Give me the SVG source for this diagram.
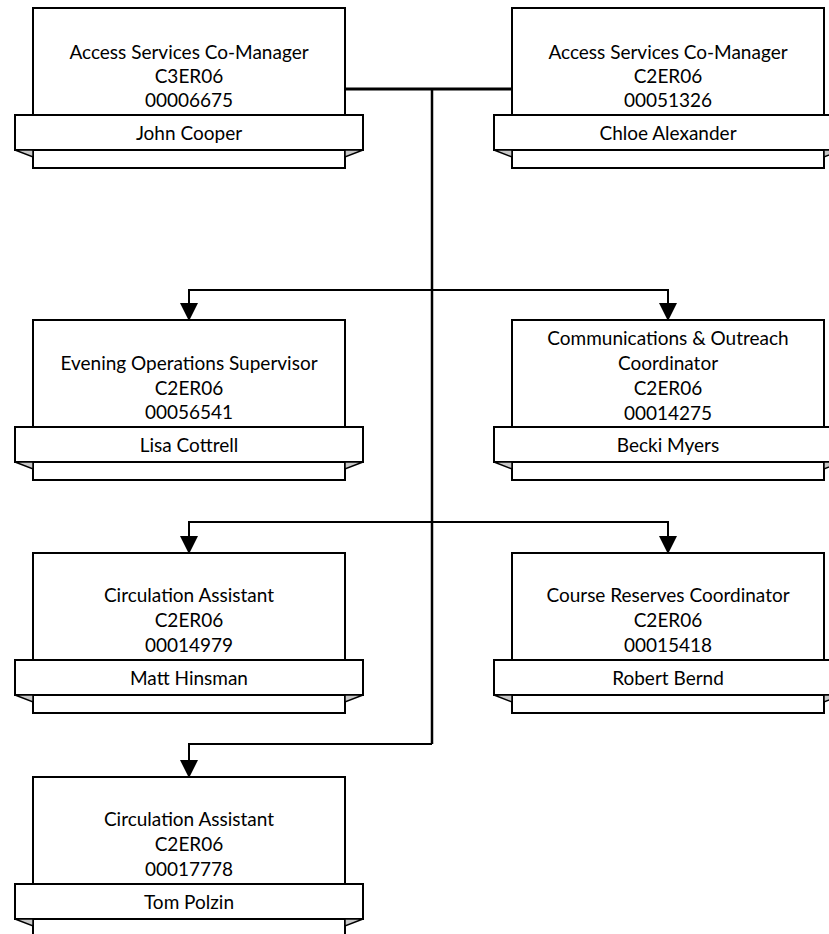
<svg xmlns="http://www.w3.org/2000/svg" xmlns:xlink="http://www.w3.org/1999/xlink" width="829" height="934" viewBox="0 0 829 934">
<style>
.box{fill:#fff;stroke:#000;stroke-width:2}
.fold{fill:#c8c8c8;stroke:#000;stroke-width:1.5;stroke-linejoin:miter}
.t{font-family:Lato,"Liberation Sans",sans-serif;font-size:19px;text-anchor:middle;fill:#000}
.conn{fill:none;stroke:#000;stroke-width:2}
</style>
<defs>
<marker id="arr" viewBox="0 0 18 18" refX="17" refY="9" markerWidth="18" markerHeight="18" markerUnits="userSpaceOnUse" orient="auto">
<path d="M0,0 L18,9 L0,18 z" fill="#000"/>
</marker>
<g id="card">
<rect class="box" x="0" y="0" width="312" height="160"/>
<rect class="box" x="-18" y="107" width="348" height="35"/>
<polygon class="fold" points="-18,142 0,142 0,149"/>
<polygon class="fold" points="330,142 312,142 312,149"/>
</g>
</defs>
<g id="connectors">
<path d="M345,89 H512" style="fill:none;stroke:#000;stroke-width:3"/>
<path d="M432,89 V744" style="fill:none;stroke:#000;stroke-width:2.5"/>
<path class="conn" d="M432,290 H189 V320" marker-end="url(#arr)"/>
<path class="conn" d="M432,290 H668 V320" marker-end="url(#arr)"/>
<path class="conn" d="M432,522 H189 V553" marker-end="url(#arr)"/>
<path class="conn" d="M432,522 H668 V553" marker-end="url(#arr)"/>
<path class="conn" d="M432,744 H189 V777" marker-end="url(#arr)"/>
</g>
<g id="node-john-cooper">
<use xlink:href="#card" x="33" y="8"/>
<text class="t" x="189" y="59">Access Services Co-Manager</text>
<text class="t" x="189" y="83">C3ER06</text>
<text class="t" x="189" y="107">00006675</text>
<text class="t" x="189" y="140">John Cooper</text>
</g>
<g id="node-chloe-alexander">
<use xlink:href="#card" x="512" y="8"/>
<text class="t" x="668" y="59">Access Services Co-Manager</text>
<text class="t" x="668" y="83">C2ER06</text>
<text class="t" x="668" y="107">00051326</text>
<text class="t" x="668" y="140">Chloe Alexander</text>
</g>
<g id="node-lisa-cottrell">
<use xlink:href="#card" x="33" y="320"/>
<text class="t" x="189" y="370">Evening Operations Supervisor</text>
<text class="t" x="189" y="395">C2ER06</text>
<text class="t" x="189" y="419">00056541</text>
<text class="t" x="189" y="452">Lisa Cottrell</text>
</g>
<g id="node-becki-myers">
<use xlink:href="#card" x="512" y="320"/>
<text class="t" x="668" y="345">Communications &amp; Outreach</text>
<text class="t" x="668" y="370">Coordinator</text>
<text class="t" x="668" y="395">C2ER06</text>
<text class="t" x="668" y="420">00014275</text>
<text class="t" x="668" y="452">Becki Myers</text>
</g>
<g id="node-matt-hinsman">
<use xlink:href="#card" x="33" y="553"/>
<text class="t" x="189" y="602">Circulation Assistant</text>
<text class="t" x="189" y="627">C2ER06</text>
<text class="t" x="189" y="652">00014979</text>
<text class="t" x="189" y="685">Matt Hinsman</text>
</g>
<g id="node-robert-bernd">
<use xlink:href="#card" x="512" y="553"/>
<text class="t" x="668" y="602">Course Reserves Coordinator</text>
<text class="t" x="668" y="627">C2ER06</text>
<text class="t" x="668" y="652">00015418</text>
<text class="t" x="668" y="685">Robert Bernd</text>
</g>
<g id="node-tom-polzin">
<use xlink:href="#card" x="33" y="777"/>
<text class="t" x="189" y="826">Circulation Assistant</text>
<text class="t" x="189" y="851">C2ER06</text>
<text class="t" x="189" y="876">00017778</text>
<text class="t" x="189" y="909">Tom Polzin</text>
</g>
</svg>
